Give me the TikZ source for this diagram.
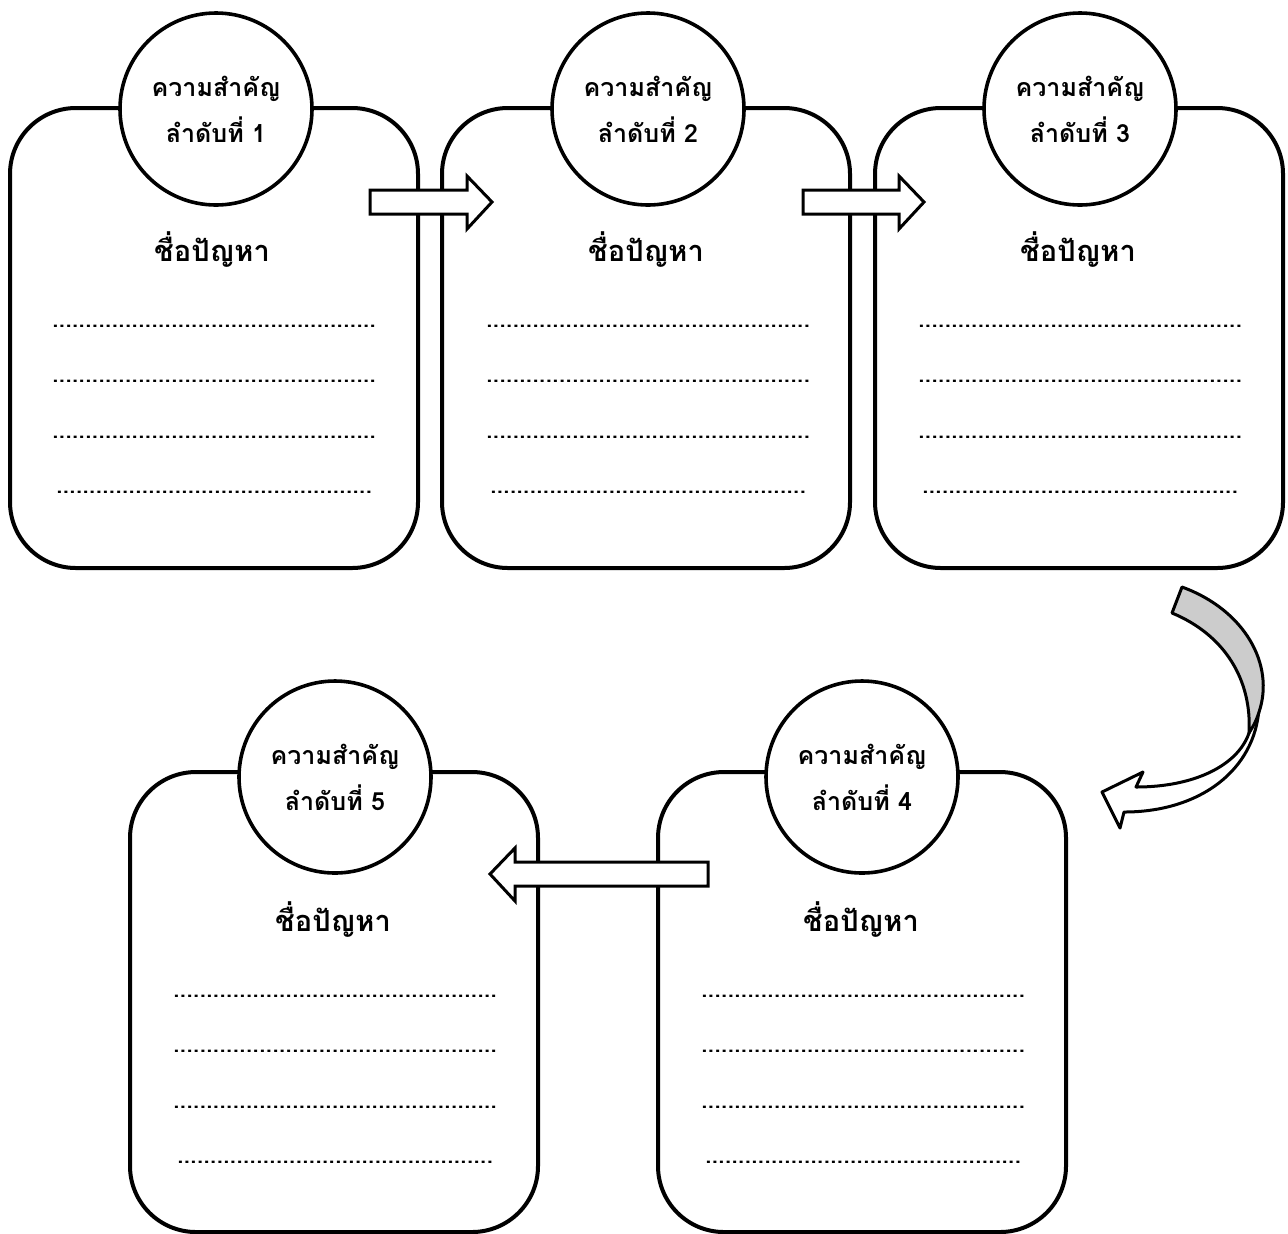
\documentclass[tikz,border=0pt]{standalone}
\usepackage{fontspec}
\newfontfamily\thaifont[Script=Thai]{Loma}
\newcommand\dotrow[1]{\hbox to #1{\xleaders\hbox to 3.25pt{\hss.\hss}\hfill}}
\tikzset{
  card/.style={draw, line width=2pt, rounded corners=33pt, minimum width=204pt, minimum height=230pt, inner sep=0pt},
  badge/.style={draw, circle, line width=1.8pt, fill=white, minimum size=96pt, inner sep=0pt},
  badgetext/.style={font=\thaifont\bfseries\fontsize{12.5}{23}\selectfont, align=center, inner sep=0pt},
  titletext/.style={font=\thaifont\bfseries\fontsize{14.5}{16}\selectfont, inner sep=0pt},
  dotstext/.style={font=\thaifont\bfseries\fontsize{11}{12}\selectfont, inner sep=0pt},
  blockarrow/.style={draw, line width=1.5pt, fill=white, line join=miter},
}
\begin{document}
\begin{tikzpicture}[x=0.5pt,y=-0.5pt]
\useasboundingbox (0,0) rectangle (1288,1233);
% cards
\node[card] (b1) at (214,338) {};
\node[card] (b2) at (646,338) {};
\node[card] (b3) at (1079,338) {};
\node[card] (b5) at (334,1002) {};
\node[card] (b4) at (862,1002) {};
% badges
\foreach \n/\x/\y/\k in {1/216/109/1, 2/648/109/2, 3/1080/109/3, 5/335/777/5, 4/862/777/4}{
  \node[badge] (c\n) at (\x,\y) {};
  \node[badgetext] (t\n) at (\x,\y) {ความสำคัญ\\ลำดับที่ \k};
}
% titles and dotted lines
\foreach \n/\x/\y in {1/212/250, 2/646/250, 3/1078/250, 5/333/920, 4/861/920}{
  \node[titletext] (h\n) at (\x,\y) {ชื่อปัญหา};
  \node[dotstext] (d\n a) at (\x+2,\y+76) {\dotrow{162pt}};
  \node[dotstext] (d\n b) at (\x+2,\y+131) {\dotrow{162pt}};
  \node[dotstext] (d\n c) at (\x+2,\y+187) {\dotrow{162pt}};
  \node[dotstext] (d\n d) at (\x+2,\y+242) {\dotrow{158pt}};
}
% straight block arrows
\draw[blockarrow] (370,190) -- (467,190) -- (467,176) -- (492,202) -- (467,229) -- (467,214) -- (370,214) -- cycle;
\draw[blockarrow] (803,190) -- (899,190) -- (899,176) -- (924,202) -- (899,229) -- (899,214) -- (803,214) -- cycle;
\draw[blockarrow] (708,862) -- (515,862) -- (515,848) -- (490,874) -- (515,901) -- (515,886) -- (708,886) -- cycle;
% curved arrow (white front part)
\draw[blockarrow, line join=round] (1259,708) .. controls (1255,770) and (1200,812) .. (1124,812)
  -- (1120,828) -- (1102,792) -- (1143,772) -- (1136,787)
  .. controls (1195,787) and (1238,765) .. (1249,733) -- cycle;
% curved arrow (gray back part)
\draw[line width=1.5pt, fill=black!20, line join=round] (1182,587) .. controls (1245,610) and (1275,665) .. (1259,712)
  .. controls (1256,722) and (1252,728) .. (1249,733)
  .. controls (1252,680) and (1225,635) .. (1172,613) -- cycle;
\end{tikzpicture}
\end{document}
